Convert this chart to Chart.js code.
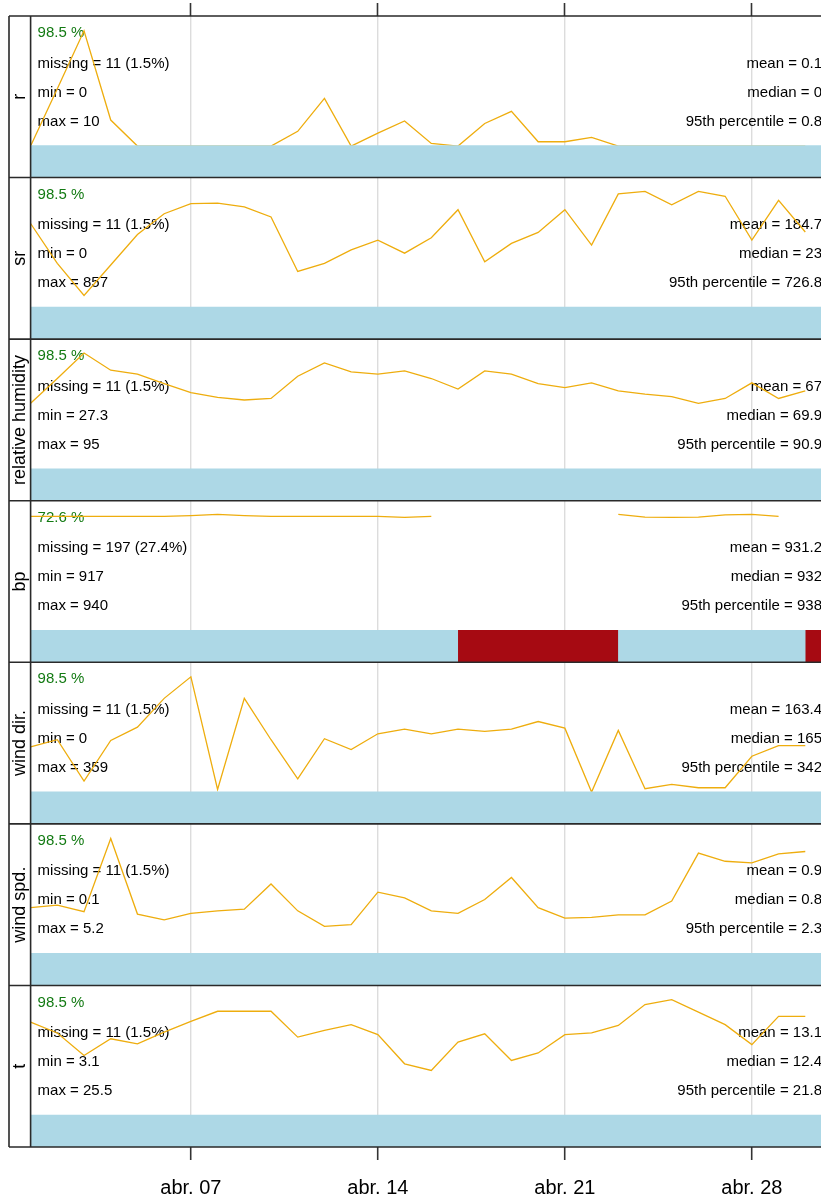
<!DOCTYPE html>
<html>
<head>
<meta charset="utf-8">
<title>Summary plot</title>
<script src="https://cdn.jsdelivr.net/npm/chart.js@4.4.1/dist/chart.umd.min.js"></script>
<style>
  html, body { margin:0; padding:0; background:#fff; overflow:hidden; }
  canvas { display:block; }
</style>
</head>
<body>
<canvas id="summaryChart" width="834" height="1196"></canvas>
<script>
// daily means, day of month (abr.)
const DAYS = [1,2,3,4,5,6,7,8,9,10,11,12,13,14,15,16,17,18,19,20,21,22,23,24,25,26,27,28,29,30];
const TICK_DAYS = [7, 14, 21, 28];
const TICK_LABELS = ['abr. 07', 'abr. 14', 'abr. 21', 'abr. 28'];

const VARS = ['r', 'sr', 'relative humidity', 'bp', 'wind dir.', 'wind spd.', 't'];

const R_VALUES = [0,0.66,1.33,0.30,0,0,0,0,0,0,0.17,0.55,0,0.15,0.29,0.03,0,0.26,0.40,0.05,0.05,0.10,0,0,0,0,0,0,0,0];
const SR_VALUES = [207,109,30,105,180,231,256,257,248,223,89,109,142,166,134,172,241,113,158,185,241,154,280,286,253,286,274,166,264,186];
const RH_VALUES = [58.0,72.3,87.0,77.1,74.8,69.4,64.1,61.4,59.9,60.8,73.6,81.3,76.1,74.8,76.7,72.3,66.2,76.7,74.8,69.4,67.1,69.8,65.2,63.3,61.8,58.0,60.8,69.8,60.8,65.2];
const BP_VALUES = [930.8,930.8,930.8,930.8,930.8,930.8,931.0,931.3,931.0,930.8,930.8,930.8,930.8,930.8,930.5,930.8,null,null,null,null,null,null,931.3,930.6,930.5,930.6,931.2,931.3,930.8,null];
const WD_VALUES = [158.1,175.4,76.8,173.8,205.4,274.0,325.3,57.1,274.0,175.4,82.3,177.8,151.8,189.6,200.7,189.6,200.7,195.1,200.7,218.8,203.0,50.8,197.5,58.7,68.9,61.0,61.0,136.0,161.2,161.2];
const WS_VALUES = [0.77,0.80,0.72,1.62,0.69,0.62,0.70,0.73,0.75,1.06,0.73,0.54,0.56,0.96,0.89,0.73,0.70,0.87,1.14,0.77,0.64,0.65,0.68,0.68,0.85,1.44,1.34,1.32,1.43,1.46];
const T_VALUES = [14.2,12.9,10.2,12.2,11.6,13.0,14.3,15.5,15.5,15.5,12.4,13.2,13.9,12.7,9.2,8.4,11.8,12.8,9.6,10.5,12.7,12.9,13.8,16.3,16.9,15.4,13.9,11.5,14.9,14.9];
const SERIES = [R_VALUES, SR_VALUES, RH_VALUES, BP_VALUES, WD_VALUES, WS_VALUES, T_VALUES];

// panel statistics
const PCT_OK = ['98.5 %','98.5 %','98.5 %','72.6 %','98.5 %','98.5 %','98.5 %'];
const MISSING = ['11 (1.5%)','11 (1.5%)','11 (1.5%)','197 (27.4%)','11 (1.5%)','11 (1.5%)','11 (1.5%)'];
const MINS = ['0','0','27.3','917','0','0.1','3.1'];
const MAXS = ['10','857','95','940','359','5.2','25.5'];
const MEANS = ['0.1','184.7','67','931.2','163.4','0.9','13.1'];
const MEDIANS = ['0','23','69.9','932','165','0.8','12.4'];
const P95S = ['0.8','726.8','90.9','938','342','2.3','21.8'];

// missing periods (days), only bp has visible gaps
const BP_MISSING = [[17, 23], [30, 31]];
const MISSING_BY_VAR = [[], [], [], BP_MISSING, [], [], []];

// value at top of availability bar / at top of panel
const Y_LO = [0, 0, 20, 900, 50, 0.2, 3];
const Y_HI = [1.5, 320, 95, 935, 360, 1.8, 18.6];

const X_MIN = 1, X_MAX = 31;
const BAR_FRAC = 0.195;
const FONT = '"Liberation Sans", Arial, sans-serif';
const LINE_COL = '#eead0e';
const DATA_COL = '#add8e6';
const MIS_COL = '#a60a12';
const PCT_COL = '#137a13';
const FRAME_COL = '#2a2a2a';

function fixedTicks(scale) {
  scale.ticks = TICK_DAYS.map(v => ({ value: v }));
}

// bar top sits a hair above the lowest value so flat zero runs hide under it
function barTop(i) {
  return Y_LO[i] + (Y_HI[i] - Y_LO[i]) / 160;
}

const scales = {
  x: {
    type: 'linear', position: 'bottom', min: X_MIN, max: X_MAX,
    afterBuildTicks: fixedTicks,
    grid: { color: '#dcdcdc', lineWidth: 1.4, tickColor: '#333', tickWidth: 1.6, tickLength: 13 },
    border: { display: false },
    ticks: {
      color: '#000', padding: 18, maxRotation: 0, autoSkip: false,
      font: { family: FONT, size: 20, lineHeight: 1 },
      callback: (v, i) => TICK_LABELS[i]
    }
  },
  xTop: {
    type: 'linear', position: 'top', min: X_MIN, max: X_MAX,
    afterBuildTicks: fixedTicks,
    grid: { drawOnChartArea: false, tickColor: '#333', tickWidth: 1.6, tickLength: 13 },
    border: { display: false },
    ticks: { display: false }
  }
};

VARS.forEach((name, i) => {
  const lo = Y_LO[i], hi = Y_HI[i];
  scales['y' + i] = {
    type: 'linear', position: 'left', stack: 'panels', stackWeight: 1, weight: VARS.length - i,
    min: lo - (hi - lo) * BAR_FRAC / (1 - BAR_FRAC), max: hi,
    grid: { display: false, drawTicks: false },
    border: { display: false },
    ticks: { display: false },
    title: { display: true, text: name, color: '#000', padding: 0, font: { family: FONT, size: 18, lineHeight: 1.2 } }
  };
});

const datasets = [];
SERIES.forEach((vals, i) => {
  datasets.push({
    label: VARS[i], yAxisID: 'y' + i, xAxisID: 'x',
    data: DAYS.map((d, k) => ({ x: d, y: vals[k] })),
    borderColor: LINE_COL, borderWidth: 1.3, pointRadius: 0, fill: false, spanGaps: false, tension: 0, order: 2
  });
  datasets.push({
    label: VARS[i] + ' data', yAxisID: 'y' + i, xAxisID: 'x',
    data: [{ x: X_MIN, y: barTop(i) }, { x: X_MAX, y: barTop(i) }],
    borderColor: 'transparent', borderWidth: 0, pointRadius: 0, backgroundColor: DATA_COL, fill: 'start', order: 1
  });
  MISSING_BY_VAR[i].forEach(([a, b]) => {
    datasets.push({
      label: VARS[i] + ' missing', yAxisID: 'y' + i, xAxisID: 'x',
      data: [{ x: a, y: barTop(i) }, { x: b, y: barTop(i) }],
      borderColor: 'transparent', borderWidth: 0, pointRadius: 0, backgroundColor: MIS_COL, fill: 'start', order: 0
    });
  });
});

// stats text inside each panel (under the lines)
const panelText = {
  id: 'panelText',
  beforeDatasetsDraw(chart) {
    const ctx = chart.ctx, area = chart.chartArea;
    const lx = area.left + 7, rx = area.right - 10;
    ctx.save();
    ctx.font = '15px ' + FONT;
    ctx.textBaseline = 'middle';
    VARS.forEach((v, i) => {
      const top = chart.scales['y' + i].top;
      ctx.textAlign = 'left';
      ctx.fillStyle = PCT_COL;
      ctx.fillText(PCT_OK[i], lx, top + 17);
      ctx.fillStyle = '#000';
      ctx.fillText('missing = ' + MISSING[i], lx, top + 47.5);
      ctx.fillText('min = ' + MINS[i], lx, top + 76.5);
      ctx.fillText('max = ' + MAXS[i], lx, top + 105.5);
      ctx.textAlign = 'right';
      ctx.fillText('mean = ' + MEANS[i], rx, top + 47.5);
      ctx.fillText('median = ' + MEDIANS[i], rx, top + 76.5);
      ctx.fillText('95th percentile = ' + P95S[i], rx, top + 105.5);
    });
    ctx.restore();
  }
};

// panel and strip frames
const frames = {
  id: 'frames',
  afterDraw(chart) {
    const ctx = chart.ctx, area = chart.chartArea;
    const x0 = chart.options.layout.padding.left;
    ctx.save();
    ctx.strokeStyle = FRAME_COL;
    ctx.lineWidth = 1.6;
    ctx.beginPath();
    VARS.forEach((v, i) => {
      const s = chart.scales['y' + i];
      ctx.moveTo(x0, s.top); ctx.lineTo(area.right, s.top);
    });
    ctx.moveTo(x0, area.bottom); ctx.lineTo(area.right, area.bottom);
    ctx.moveTo(x0, area.top); ctx.lineTo(x0, area.bottom);
    ctx.moveTo(area.left, area.top); ctx.lineTo(area.left, area.bottom);
    ctx.moveTo(area.right, area.top); ctx.lineTo(area.right, area.bottom);
    ctx.stroke();
    ctx.restore();
  }
};

new Chart(document.getElementById('summaryChart'), {
  type: 'line',
  data: { datasets },
  options: {
    responsive: false,
    animation: false,
    layout: { padding: { left: 9, top: 3, right: 2, bottom: -20 } },
    plugins: { legend: { display: false }, tooltip: { enabled: false } },
    scales
  },
  plugins: [panelText, frames]
});
</script>
</body>
</html>
